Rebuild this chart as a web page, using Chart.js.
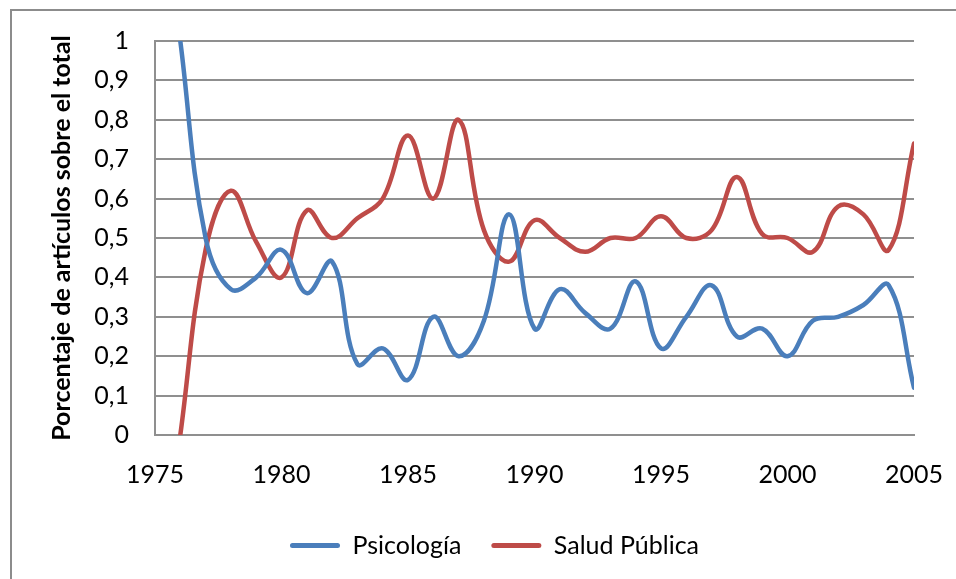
<!DOCTYPE html>
<html>
<head>
<meta charset="utf-8">
<script src="https://cdn.jsdelivr.net/npm/chart.js@4/dist/chart.umd.min.js"></script>
<style>
  html, body { margin: 0; padding: 0; background: #fff; }
  #wrap { position: relative; width: 956px; height: 579px; }
  #frame { position: absolute; left: 10px; top: 9px; right: -4px; bottom: -4px;
           border-top: 2px solid #8c8c8c; border-left: 2px solid #8c8c8c; pointer-events: none; }
</style>
</head>
<body>
<div id="wrap">
  <canvas id="chart"></canvas>
  <div id="frame"></div>
</div>
<script>
const years = [1976, 1977, 1978, 1979, 1980, 1981, 1982, 1983, 1984, 1985,
               1986, 1987, 1988, 1989, 1990, 1991, 1992, 1993, 1994, 1995,
               1996, 1997, 1998, 1999, 2000, 2001, 2002, 2003, 2004, 2005]
const psicologia = [1.0, 0.5, 0.37, 0.4, 0.47, 0.36, 0.44, 0.18, 0.22, 0.14,
                    0.3, 0.2, 0.29, 0.56, 0.27, 0.37, 0.31, 0.27, 0.39, 0.22,
                    0.3, 0.38, 0.25, 0.27, 0.2, 0.29, 0.3, 0.33, 0.38, 0.12]
const saludPublica = [0.0, 0.47, 0.62, 0.49, 0.4, 0.57, 0.5, 0.55, 0.6, 0.76,
                      0.6, 0.8, 0.52, 0.44, 0.545, 0.5, 0.465, 0.5, 0.5, 0.555,
                      0.5, 0.52, 0.655, 0.51, 0.5, 0.465, 0.58, 0.56, 0.47, 0.74]
const xTickLabels = ['1975', '1980', '1985', '1990', '1995', '2000', '2005']
const yTickLabels = ['0', '0,1', '0,2', '0,3', '0,4', '0,5', '0,6', '0,7', '0,8', '0,9', '1']

const FONT = "Lato, 'Open Sans', sans-serif"
const gridGray = '#8f8f8f'

const toPoints = vals => years.map((y, i) => ({x: y, y: vals[i]}))

const ctx = document.getElementById('chart').getContext('2d')
Chart.defaults.color = '#000'
Chart.defaults.font.family = FONT

new Chart(ctx, {
    type: 'line',
    data: {
        datasets: [
            {
                label: 'Psicología',
                data: toPoints(psicologia),
                borderColor: '#4A7EBB',
                backgroundColor: '#4A7EBB',
                borderWidth: 4.5,
                pointRadius: 0,
                tension: 0.4,
                borderCapStyle: 'round'
            },
            {
                label: 'Salud Pública',
                data: toPoints(saludPublica),
                borderColor: '#BE4B48',
                backgroundColor: '#BE4B48',
                borderWidth: 4.5,
                pointRadius: 0,
                tension: 0.4,
                borderCapStyle: 'round'
            }
        ]
    },
    options: {
        responsive: true,
        maintainAspectRatio: false,
        animation: false,
        layout: {
            // left padding also centres the legend like the original
            padding: {left: 75, right: 42, top: 40, bottom: 11}
        },
        scales: {
            x: {
                type: 'linear',
                min: 1975,
                max: 2005,
                afterFit: s => {
                    s.height = 68
                    s.paddingLeft = 0
                    s.paddingRight = 0
                },
                ticks: {
                    stepSize: 5,
                    padding: 25,
                    font: {size: 25},
                    callback: (v) => xTickLabels[(v - 1975) / 5]
                },
                grid: {display: false, drawTicks: false},
                border: {display: true, color: gridGray, width: 2}
            },
            y: {
                min: 0,
                max: 1,
                afterFit: s => { s.width = 80 },
                ticks: {
                    stepSize: 0.1,
                    padding: 26,
                    font: {size: 25},
                    callback: (v, i) => yTickLabels[i]
                },
                grid: {color: gridGray, lineWidth: 2, drawTicks: false},
                border: {display: true, color: gridGray, width: 2},
                title: {
                    display: true,
                    text: 'Porcentaje de artículos sobre el total',
                    font: {size: 25, weight: 'bold'},
                    padding: {top: -28, bottom: 0}
                }
            }
        },
        plugins: {
            legend: {
                position: 'bottom',
                labels: {
                    boxWidth: 50,
                    boxHeight: 5,
                    padding: 30,
                    font: {size: 25},
                    generateLabels: chart => Chart.defaults.plugins.legend.labels.generateLabels(chart)
                        .map(l => Object.assign(l, {lineWidth: 0, borderRadius: 2.5}))
                }
            },
            tooltip: {enabled: false}
        }
    }
})
</script>
</body>
</html>
